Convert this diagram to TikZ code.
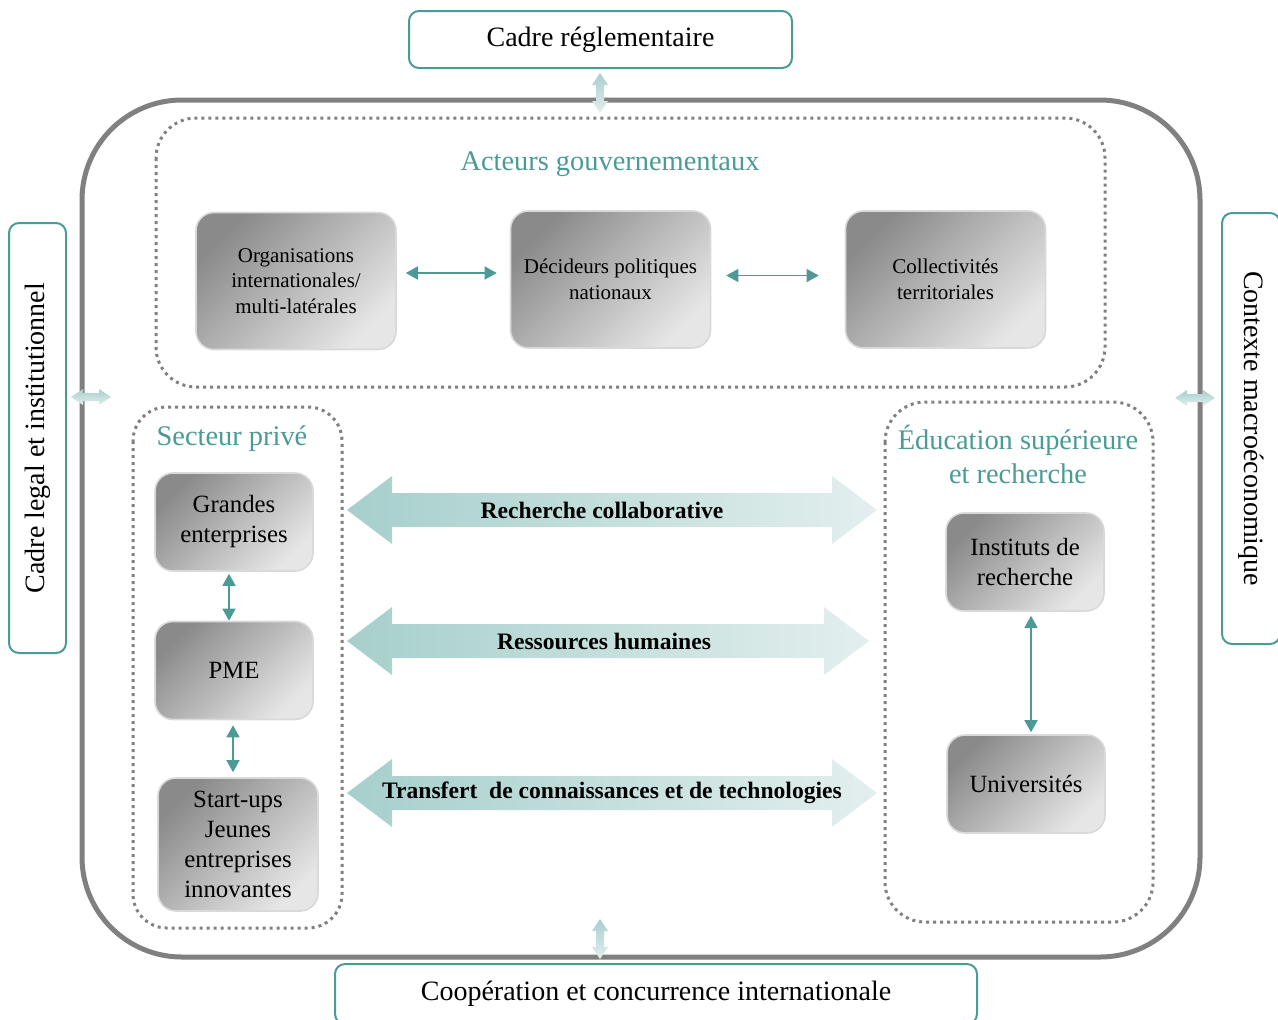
\documentclass[tikz,border=0pt]{standalone}
\usepackage{fontspec}
\setmainfont{Liberation Serif}
\usetikzlibrary{positioning,arrows.meta}
\definecolor{tealline}{HTML}{4A9A95}
\definecolor{framegray}{HTML}{808080}
\definecolor{arrowdark}{HTML}{A6CFCC}
\definecolor{arrowlight}{HTML}{E3EFEE}
\definecolor{boxdark}{HTML}{8A8A8A}
\definecolor{boxlight}{HTML}{E6E6E6}
\tikzset{
  frame/.style={draw=tealline, line width=1pt, rounded corners=5pt, fill=white, font=\fontsize{14}{17}\selectfont},
  group/.style={draw=framegray, dotted, line width=1.5pt, rounded corners=20pt},
  title/.style={text=tealline, align=center, font=\fontsize{14.2}{17}\selectfont},
  actor/.style={draw=gray!30, line width=0.8pt, rounded corners=9pt, top color=boxdark, bottom color=boxlight, shading angle=45, align=center},
  govt/.style={minimum width=100pt, minimum height=68.5pt, font=\fontsize{10.5}{12.75}\selectfont},
  unit/.style={minimum width=79pt, minimum height=49pt, font=\fontsize{12.4}{15}\selectfont},
  link/.style={tealline, line width=0.7pt, {Triangle[length=6pt,width=6.5pt]}-{Triangle[length=6pt,width=6.5pt]}},
  bigarrow/.style={left color=arrowdark, right color=arrowlight},
  smallarrow/.style={top color=arrowdark, bottom color=arrowlight},
  flowtext/.style={font=\bfseries\fontsize{11.8}{14}\selectfont}
}
\begin{document}
\begin{tikzpicture}[x=0.5pt, y=-0.5pt]
\useasboundingbox (0,0) rectangle (1278,1019);
\draw[line width=2.5pt, framegray, rounded corners=50pt] (82,100) rectangle (1200,957);
\draw[group] (156,118) rectangle (1105,387);
\draw[group, rounded corners=17pt] (133,407) rectangle (342,928);
\draw[group] (885,402) rectangle (1153,922);

\node[frame, minimum width=191.5pt, minimum height=28.5pt] (regl) at (600.5,39.5) {Cadre réglementaire};
\node[frame, rotate=90, minimum width=215pt, minimum height=28.5pt] (legal) at (37.5,438) {Cadre legal et institutionnel};
\node[frame, rotate=-90, minimum width=215.5pt, minimum height=29pt] (macro) at (1251,428.5) {Contexte macroéconomique};
\node[frame, minimum width=321pt, minimum height=30pt] (coop) at (656,994) {Coopération et concurrence internationale};

\foreach \pos/\ang in {{600,93}/0, {600,939}/0, {91,397}/90, {1195,398}/90}
  \shade[smallarrow, shift={(\pos)}, rotate=\ang] (0,-20) -- (8,-8) -- (4,-8) -- (4,8) -- (8,8) -- (0,20) -- (-8,8) -- (-4,8) -- (-4,-8) -- (-8,-8) -- cycle;

\node[title] (gouv) at (610,164) {Acteurs gouvernementaux};
\node[title] (prive) at (232,439) {Secteur privé};
\node[title] (edu) at (1018,454) {Éducation supérieure\\et recherche};

\node[actor, govt] (org) at (296,281) {Organisations\\internationales/\\multi-latérales};
\node[actor, govt] (dec) at (610.5,279.5) {Décideurs politiques\\nationaux};
\node[actor, govt] (coll) at (945.5,279.5) {Collectivités\\territoriales};
\draw[link, shorten <=4.5pt, shorten >=6.5pt] ([yshift=4pt]org.east) -- ([yshift=3.25pt]dec.west);
\draw[link, shorten <=7.5pt, shorten >=13pt] ([yshift=2pt]dec.east) -- ([yshift=2pt]coll.west);

\node[actor, unit] (grandes) at (234,522) {Grandes\\enterprises};
\node[actor, unit] (pme) at (234,670.5) {PME};
\node[actor, unit, minimum width=80pt, minimum height=66.5pt] (startup) at (238,844.5) {Start-ups\\Jeunes\\entreprises\\innovantes};
\draw[link, shorten <=1pt] ([xshift=-2.5pt]grandes.south) -- ([xshift=-2.5pt]pme.north);
\draw[link, shorten <=2.5pt, shorten >=2.5pt] ([xshift=-0.5pt]pme.south) -- ([xshift=-2.5pt]startup.north);

\node[actor, unit] (instituts) at (1025,562) {Instituts de\\recherche};
\node[actor, unit] (univ) at (1026,784) {Universités};
\draw[link, shorten <=2pt, shorten >=1pt] ([xshift=3pt]instituts.south) -- ([xshift=2.5pt]univ.north);

\foreach \name/\yc/\xr/\xt/\txt in {rech/510/877/602/Recherche collaborative, rh/641/869/604/Ressources humaines, transf/793/877/612/Transfert\ \ de connaissances et de technologies}{
  \shade[bigarrow] (347,\yc) -- (392,\yc-34) -- (392,\yc-17) -- (\xr-45,\yc-17) -- (\xr-45,\yc-34) -- (\xr,\yc) -- (\xr-45,\yc+34) -- (\xr-45,\yc+17) -- (392,\yc+17) -- (392,\yc+34) -- cycle;
  \node[flowtext] (\name) at (\xt,\yc) {\txt};
}
\end{tikzpicture}
\end{document}
